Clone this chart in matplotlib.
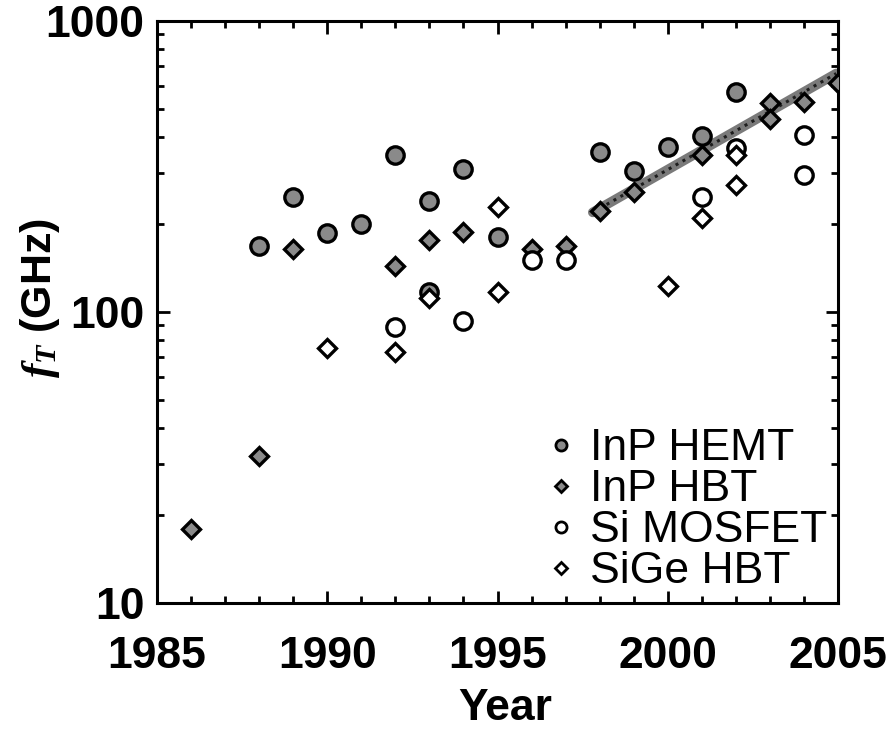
import matplotlib
matplotlib.use("Agg")
import matplotlib.pyplot as plt
from matplotlib.ticker import FixedLocator, LogLocator, NullFormatter
from matplotlib.lines import Line2D

plt.rcParams['font.family'] = ['Liberation Sans', 'DejaVu Sans']
plt.rcParams['mathtext.fontset'] = 'custom'
plt.rcParams['mathtext.it'] = 'Liberation Serif:italic:bold'
plt.rcParams['mathtext.rm'] = 'Liberation Sans:bold'

# Cutoff frequency by device technology
hemt_year = [1988, 1989, 1990, 1991, 1992, 1993, 1993, 1994, 1995, 1998, 1999, 2000, 2001, 2002]
hemt_ft = [169, 249, 187, 201, 346, 241, 117, 309, 181, 354, 305, 369, 404, 571]

inp_hbt_year = [1986, 1988, 1989, 1992, 1993, 1994, 1996, 1997, 1998, 1999, 2001, 2003, 2003, 2004, 2005]
inp_hbt_ft = [18, 32, 165, 144, 177, 188, 164, 169, 222, 258, 345, 524, 459, 527, 610]

mosfet_year = [1992, 1994, 1996, 1997, 2001, 2002, 2004, 2004]
mosfet_ft = [89, 93, 151, 151, 248, 365, 405, 295]

sige_year = [1990, 1992, 1993, 1995, 1995, 2000, 2001, 2002, 2002]
sige_ft = [75, 73, 112, 230, 117, 123, 211, 274, 345]

# Trend line through the recent InP HBT results
trend_year = [1997.8, 2004.95]
trend_ft = [220, 660]

year_ticks = [1985, 1990, 1995, 2000, 2005]
ft_ticks = [10, 100, 1000]
ft_tick_labels = ['10', '100', '1000']

fig = plt.figure(figsize=(8.95, 7.29), dpi=100)
ax = fig.add_axes([157 / 895, 1 - 603 / 729, (838 - 157) / 895, (603 - 21) / 729])

ax.plot(trend_year, trend_ft, color='#7a7a7a', lw=7, solid_capstyle='round', zorder=2)
ax.plot(trend_year, trend_ft, color='black', lw=2.2, ls=(0, (1, 1.6)), alpha=0.75, zorder=2)

ms = 12.5
mew = 2.4
ax.plot(hemt_year, hemt_ft, 'o', ms=ms, mfc='#8a8a8a', mec='black', mew=mew, zorder=3)
ax.plot(inp_hbt_year, inp_hbt_ft, 'D', ms=ms * 0.72, mfc='#8a8a8a', mec='black', mew=mew, zorder=3)
ax.plot(mosfet_year, mosfet_ft, 'o', ms=ms, mfc='white', mec='black', mew=mew, zorder=3)
ax.plot(sige_year, sige_ft, 'D', ms=ms * 0.72, mfc='white', mec='black', mew=mew, zorder=3)

ax.set_xlim(1985, 2005)
ax.set_yscale('log')
ax.set_ylim(10, 1000)

ax.xaxis.set_major_locator(FixedLocator(year_ticks))
ax.xaxis.set_minor_locator(FixedLocator(list(range(1985, 2006))))
ax.set_xticklabels([str(y) for y in year_ticks])
ax.yaxis.set_major_locator(FixedLocator(ft_ticks))
ax.yaxis.set_minor_locator(LogLocator(base=10, subs=range(2, 10)))
ax.yaxis.set_minor_formatter(NullFormatter())
ax.set_yticklabels(ft_tick_labels)

for s in ax.spines.values():
    s.set_linewidth(2.2)

ax.tick_params(which='both', direction='in', top=True, right=True, width=2)
ax.tick_params(which='major', length=9)
ax.tick_params(which='minor', length=5)
ax.tick_params(axis='x', which='major', pad=24, labelsize=32)
ax.tick_params(axis='y', which='major', pad=9, labelsize=32)
for lab in ax.get_xticklabels() + ax.get_yticklabels():
    lab.set_fontweight('bold')

fig.text(40 / 895, 1 - 298 / 729, r'$f_T$ (GHz)', rotation=90, ha='center', va='center',
         fontsize=31, fontweight='bold')
fig.text(505 / 895, 1 - 709 / 729, 'Year', ha='center', va='center',
         fontsize=32, fontweight='bold')

handles = [
    Line2D([], [], ls='none', marker='o', ms=8, mfc='#8a8a8a', mec='black', mew=2),
    Line2D([], [], ls='none', marker='D', ms=6, mfc='#8a8a8a', mec='black', mew=2),
    Line2D([], [], ls='none', marker='o', ms=8, mfc='white', mec='black', mew=2),
    Line2D([], [], ls='none', marker='D', ms=6, mfc='white', mec='black', mew=2),
]
labels = ['InP HEMT', 'InP HBT', 'Si MOSFET', 'SiGe HBT']
ax.legend(handles, labels, loc='lower right', frameon=False, fontsize=32,
          handlelength=0.6, handletextpad=0.35, labelspacing=0.0,
          borderaxespad=0.0, bbox_to_anchor=(1.01, -0.012))

fig.savefig('out.png', dpi=100)
